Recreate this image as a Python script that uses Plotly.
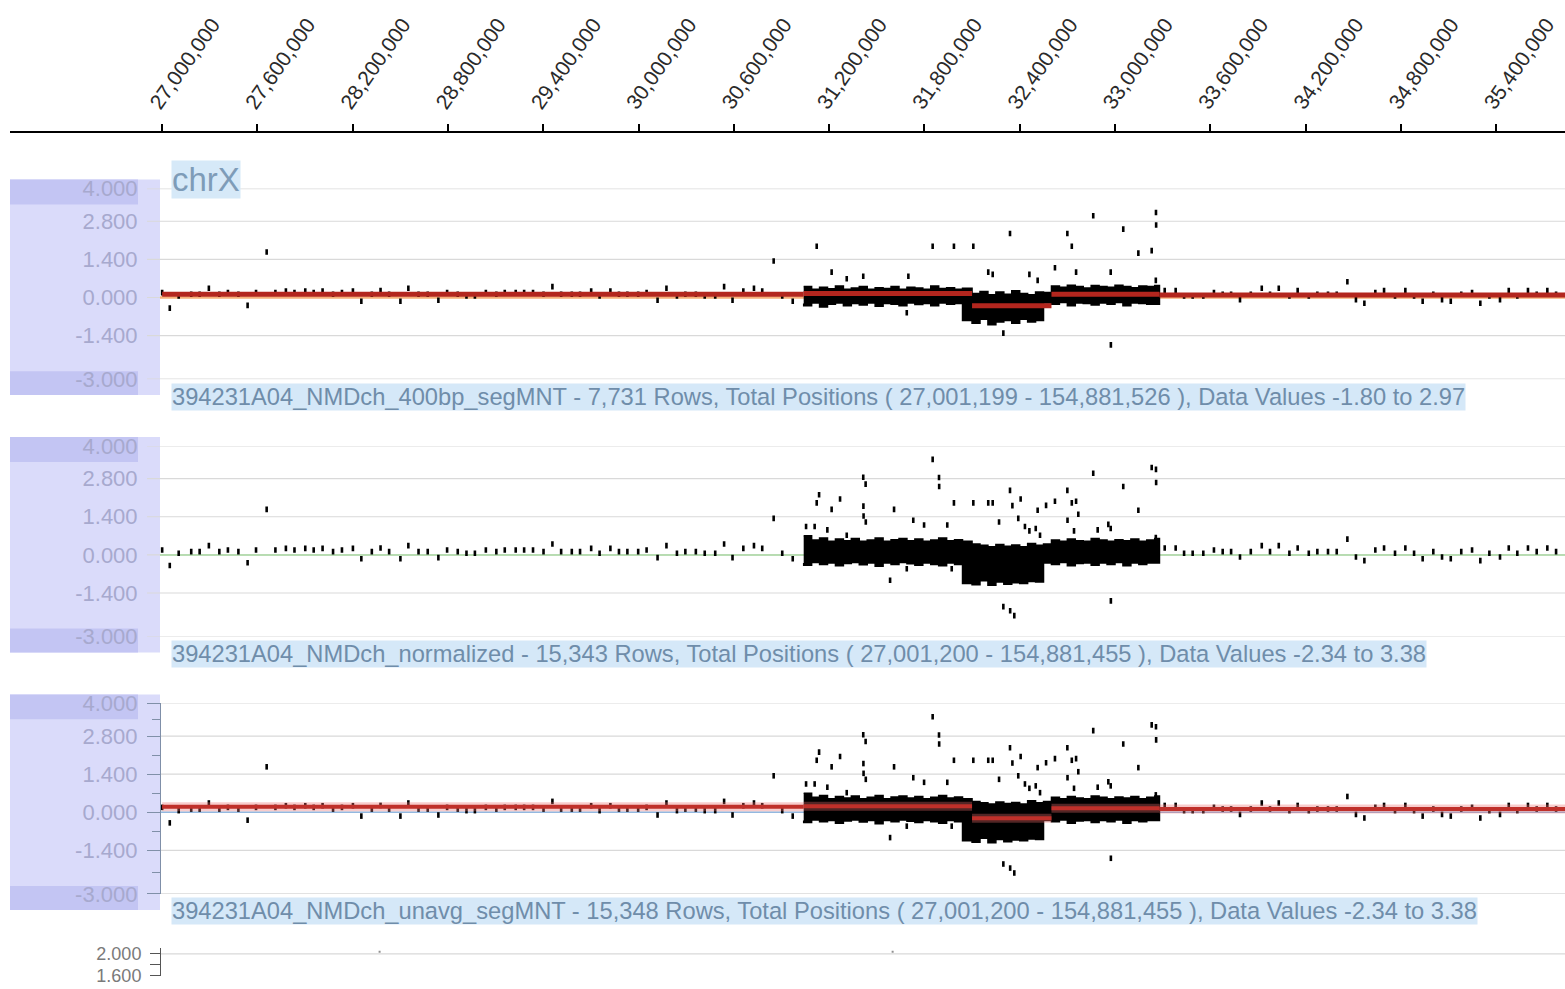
import plotly.graph_objects as go

# ---------------- data (positions in Mb, values in log-ratio units) ----------------
ruler_ticks_mb = [27.0, 27.6, 28.2, 28.8, 29.4, 30.0, 30.6, 31.2, 31.8, 32.4, 33.0, 33.6, 34.2, 34.8, 35.4]
ytick_vals = [4.0, 2.8, 1.4, 0.0, -1.4, -3.0]
ytick_minor = [3.4, 2.1, 0.7, -0.7, -2.2]

# sparse probes flanking the dense region (shared by the three tracks)
flank_x = [27.001, 27.049, 27.105, 27.184, 27.237, 27.295, 27.361, 27.415, 27.481, 27.539,
           27.592, 27.659, 27.714, 27.780, 27.834, 27.902, 27.955, 28.011, 28.077, 28.133,
           28.202, 28.255, 28.321, 28.376, 28.430, 28.501, 28.551, 28.615, 28.673, 28.740,
           28.795, 28.862, 28.917, 28.970, 29.039, 29.105, 29.158, 29.227, 29.280, 29.336,
           29.402, 29.458, 29.513, 29.580, 29.632, 29.702, 29.755, 29.823, 29.877, 29.930,
           29.998, 30.051, 30.120, 30.176, 30.242, 30.295, 30.361, 30.417, 30.483, 30.539,
           30.592, 30.660, 30.727, 30.779, 30.851, 30.905, 30.971,
           33.313, 33.382, 33.435, 33.489, 33.556, 33.623, 33.678, 33.731, 33.787, 33.855,
           33.924, 33.976, 34.031, 34.098, 34.150, 34.220, 34.274, 34.341, 34.396, 34.463,
           34.517, 34.570, 34.639, 34.694, 34.763, 34.828, 34.883, 34.937, 35.004, 35.059,
           35.114, 35.180, 35.248, 35.300, 35.357, 35.424, 35.479, 35.533, 35.600, 35.655,
           35.722, 35.777]
flank_y = [0.18, -0.39, 0.06, 0.12, 0.12, 0.34, 0.12, 0.18, 0.12, -0.29,
           0.18, 1.67, 0.18, 0.24, 0.18, 0.24, 0.18, 0.24, 0.12, 0.18,
           0.24, -0.14, 0.12, 0.25, 0.12, -0.14, 0.34, 0.12, 0.12, -0.10,
           0.18, 0.12, 0.06, 0.06, 0.18, 0.12, 0.18, 0.18, 0.18, 0.18,
           0.12, 0.40, 0.12, 0.12, 0.12, 0.24, 0.06, 0.24, 0.12, 0.12,
           0.12, 0.18, -0.10, 0.34, 0.06, 0.12, 0.12, 0.06, 0.06, 0.40,
           -0.10, 0.24, 0.34, 0.24, 1.34, 0.06, -0.14,
           0.25, 0.25, 0.06, 0.06, 0.06, 0.18, 0.12, 0.12, -0.08, 0.12,
           0.34, 0.12, 0.34, 0.06, 0.25, 0.06, 0.12, 0.12, 0.12, 0.58,
           -0.08, -0.21, 0.18, 0.25, 0.06, 0.25, 0.06, -0.14, 0.12, -0.08,
           -0.14, 0.12, 0.18, -0.21, 0.06, -0.08, 0.25, 0.06, 0.25, 0.12,
           0.25, 0.12]

# dense probe cloud envelope (sampled edges of the black band)
band_x = [31.04, 31.09, 31.14, 31.19, 31.24, 31.29, 31.34, 31.39, 31.44, 31.49, 31.54,
          31.59, 31.64, 31.69, 31.74, 31.79, 31.84, 31.89, 31.94, 31.99, 32.04,
          32.10, 32.15, 32.20, 32.25, 32.30, 32.35, 32.40, 32.45, 32.50, 32.55,
          32.60, 32.65, 32.70, 32.75, 32.80, 32.85, 32.90, 32.95, 33.00, 33.05,
          33.10, 33.15, 33.20, 33.25, 33.28]
norm_top = [0.70, 0.55, 0.62, 0.50, 0.58, 0.52, 0.60, 0.50, 0.55, 0.62, 0.50,
            0.56, 0.60, 0.52, 0.58, 0.50, 0.55, 0.62, 0.52, 0.56, 0.50,
            0.40, 0.35, 0.30, 0.38, 0.32, 0.36, 0.30, 0.42, 0.35, 0.40,
            0.55, 0.50, 0.58, 0.52, 0.50, 0.60, 0.55, 0.50, 0.56, 0.52,
            0.58, 0.50, 0.55, 0.60, 0.60]
norm_bot = [-0.30, -0.38, -0.28, -0.35, -0.30, -0.40, -0.32, -0.28, -0.36, -0.30, -0.42,
            -0.30, -0.35, -0.28, -0.33, -0.38, -0.30, -0.35, -0.40, -0.30, -0.35,
            -1.05, -1.10, -0.95, -1.12, -1.00, -1.08, -1.02, -1.05, -0.98, -1.00,
            -0.30, -0.35, -0.28, -0.40, -0.32, -0.30, -0.38, -0.30, -0.35, -0.28,
            -0.40, -0.30, -0.35, -0.30, -0.30]
seg400_top = [0.40, 0.30, 0.38, 0.32, 0.42, 0.30, 0.35, 0.40, 0.30, 0.36, 0.33,
              0.40, 0.30, 0.38, 0.35, 0.30, 0.42, 0.33, 0.36, 0.30, 0.34,
              0.15, 0.22, 0.10, 0.20, 0.12, 0.25, 0.15, 0.10, 0.20, 0.18,
              0.42, 0.38, 0.45, 0.40, 0.35, 0.44, 0.40, 0.38, 0.45, 0.40,
              0.36, 0.42, 0.40, 0.44, 0.44]
seg400_bot = [-0.22, -0.30, -0.20, -0.35, -0.25, -0.20, -0.30, -0.22, -0.28, -0.20, -0.32,
              -0.22, -0.25, -0.30, -0.20, -0.26, -0.22, -0.30, -0.20, -0.25, -0.22,
              -0.85, -0.95, -0.80, -1.00, -0.90, -0.85, -0.95, -0.80, -0.90, -0.85,
              -0.20, -0.25, -0.18, -0.30, -0.20, -0.22, -0.28, -0.20, -0.25, -0.18,
              -0.30, -0.20, -0.22, -0.25, -0.25]

# outliers inside the dense region
norm_out_x = [31.055, 31.109, 31.122, 31.137, 31.189, 31.216, 31.269, 31.311, 31.415, 31.430,
              31.416, 31.417, 31.431, 31.584, 31.609, 31.689, 31.730, 31.798, 31.852, 31.892,
              31.893, 31.944, 31.972, 31.986, 32.108, 32.202, 32.230, 32.270, 32.297, 32.339,
              32.340, 32.354, 32.366, 32.391, 32.406, 32.433, 32.461, 32.501, 32.513, 32.514,
              32.528, 32.566, 32.622, 32.700, 32.701, 32.728, 32.755, 32.742, 32.769, 32.863,
              32.891, 32.958, 32.973, 32.974, 33.052, 33.147, 33.231, 33.258, 33.259, 33.257]
norm_out_y = [1.04, 1.04, 1.91, 2.21, 0.92, 1.67, 2.05, 0.72, 2.85, 2.60,
              1.79, 1.43, 1.21, -0.93, 1.67, -0.51, 1.27, 1.10, 3.51, 2.84,
              2.51, 1.10, -0.51, 1.91, 1.91, 1.91, 1.91, 1.21, -1.90, 2.37,
              -2.05, 1.81, -2.23, 1.34, 2.05, 1.04, 0.88, 0.97, 1.64, -0.57,
              0.72, 1.82, 1.97, 2.37, 1.27, 1.91, 1.97, 0.88, 1.49, 3.00,
              0.92, 1.12, 0.97, -1.69, 2.51, 1.64, 3.21, 3.14, 2.66, 0.64]
seg400_out_x = [31.122, 31.216, 31.311, 31.415, 31.699, 31.689, 31.852, 31.986, 32.108, 32.202,
                32.230, 32.297, 32.339, 32.461, 32.513, 32.622, 32.700, 32.728, 32.755, 32.863,
                32.973, 32.974, 33.052, 33.147, 33.231, 33.258, 33.259, 33.257]
seg400_out_y = [1.88, 0.93, 0.69, 0.78, 0.78, -0.56, 1.88, 1.88, 1.88, 0.93,
                0.85, -1.31, 2.35, 0.85, 0.63, 1.09, 2.35, 1.88, 0.93, 3.00,
                0.93, -1.74, 2.51, 1.63, 1.72, 3.12, 2.66, 0.63]

# segmentation calls
seg_start = [27.001, 31.04, 32.10, 32.60, 33.28]
seg_end = [31.04, 32.10, 32.60, 33.28, 35.85]
seg400_val = [0.12, 0.15, -0.30, 0.12, 0.09]
unavg_val = [0.20, 0.22, -0.22, 0.15, 0.12]

# bottom (partially visible) track
low_x = [28.37, 31.60]
low_y = [2.04, 2.04]

titles = [
    "394231A04_NMDch_400bp_segMNT - 7,731 Rows, Total Positions ( 27,001,199 - 154,881,526 ), Data Values -1.80 to 2.97",
    "394231A04_NMDch_normalized - 15,343 Rows, Total Positions ( 27,001,200 - 154,881,455 ), Data Values -2.34 to 3.38",
    "394231A04_NMDch_unavg_segMNT - 15,348 Rows, Total Positions ( 27,001,200 - 154,881,455 ), Data Values -2.34 to 3.38",
]

# ---------------- layout helpers ----------------
W, H = 1565, 989
FONT = "Liberation Sans, Arial, sans-serif"
SY, OY = 0.977, 12.0   # vertical calibration of the captured page


def fx(px):
    return px / W


def fy(py):
    return 1 - ((py - OY) / SY) / H


BP0, PX0, BP_PER_PX = 27.0e6, 162.0, 6.0e5 / 95.3
x_range = [BP0 + (10 - PX0) * BP_PER_PX, BP0 + (W - PX0) * BP_PER_PX]


def bp(lst):
    return [v * 1e6 for v in lst]


fig = go.Figure()

tracks = [  # (yaxis id, grid-top px, grid-bottom px)
    ("y2", 189, 380),
    ("y3", 447, 638),
    ("y4", 705, 896),
]


def dots(xs, ys, yax):
    fig.add_trace(go.Scatter(
        x=bp(xs), y=ys, xaxis="x", yaxis=yax, mode="markers",
        marker=dict(symbol="line-ns", size=4, line=dict(width=2.6, color="black")),
        hoverinfo="skip", showlegend=False))


def band(top, bot, yax):
    xs = bp(band_x) + bp(band_x[::-1])
    ys = top + bot[::-1]
    fig.add_trace(go.Scatter(
        x=xs, y=ys, xaxis="x", yaxis=yax, mode="lines", fill="toself",
        fillcolor="black", line=dict(color="black", width=1.5, shape="hv"),
        hoverinfo="skip", showlegend=False))


def segments(vals, yax, color, width, halo=None):
    xs, ys = [], []
    for s, e, v in zip(seg_start, seg_end, vals):
        xs += [s * 1e6, e * 1e6, None]
        ys += [v, v, None]
    if halo:
        fig.add_trace(go.Scatter(x=xs, y=ys, xaxis="x", yaxis=yax, mode="lines",
                                 line=dict(color=halo, width=width + 5),
                                 hoverinfo="skip", showlegend=False))
    fig.add_trace(go.Scatter(x=xs, y=ys, xaxis="x", yaxis=yax, mode="lines",
                             line=dict(color=color, width=width),
                             hoverinfo="skip", showlegend=False))


# track 1: 400bp segMNT
dots(flank_x, flank_y, "y2")
band(seg400_top, seg400_bot, "y2")
dots(seg400_out_x, seg400_out_y, "y2")
segments(seg400_val, "y2", "#B3261E", 5)

# track 2: normalized
dots(flank_x, flank_y, "y3")
band(norm_top, norm_bot, "y3")
dots(norm_out_x, norm_out_y, "y3")

# track 3: unavg segMNT
dots(flank_x, flank_y, "y4")
band(norm_top, norm_bot, "y4")
dots(norm_out_x, norm_out_y, "y4")
segments(unavg_val, "y4", "#C0302A", 4, halo="rgba(235,110,110,0.35)")

# track 4
fig.add_trace(go.Scatter(x=bp(low_x), y=low_y, xaxis="x", yaxis="y5", mode="markers",
                         marker=dict(symbol="square", size=2, color="#909090"),
                         hoverinfo="skip", showlegend=False))

shapes = []
baseline_colors = ["#F6B07A", "#A9D9A0", "#93B8E0"]
for i, (yax, ptop, pbot) in enumerate(tracks):
    # label panel
    shapes.append(dict(type="rect", xref="paper", yref="paper", x0=fx(10), x1=fx(160),
                       y0=fy(pbot + 16), y1=fy(ptop - 9), fillcolor="#DADBFA",
                       line=dict(width=0), layer="below"))
    shapes.append(dict(type="rect", xref="paper", yref="paper", x0=fx(10), x1=fx(138),
                       y0=fy(ptop + 16), y1=fy(ptop - 9), fillcolor="#C3C5F3",
                       line=dict(width=0), layer="below"))
    shapes.append(dict(type="rect", xref="paper", yref="paper", x0=fx(10), x1=fx(138),
                       y0=fy(pbot + 16), y1=fy(pbot - 8), fillcolor="#C3C5F3",
                       line=dict(width=0), layer="below"))
    gx0 = fx(160) if i == 2 else fx(147)
    for v in ytick_vals:
        shapes.append(dict(type="line", xref="paper", yref=yax, x0=gx0, x1=1, y0=v, y1=v,
                           line=dict(color="#D9D9D9", width=1.2), layer="below"))
    shapes.append(dict(type="line", xref="paper", yref=yax, x0=fx(160), x1=1, y0=0, y1=0,
                       line=dict(color=baseline_colors[i], width=2.5 if i == 0 else 1.5),
                       layer="below"))
shapes.append(dict(type="line", xref="paper", yref="y5", x0=fx(160), x1=1, y0=2.0, y1=2.0,
                   line=dict(color="#D9D9D9", width=1.2), layer="below"))

annotations = [dict(x=fx(171), y=fy(180), xref="paper", yref="paper", xanchor="left",
                    yanchor="middle", text="chrX", showarrow=False,
                    font=dict(family=FONT, size=33, color="#7E9CB8"),
                    bgcolor="#D6E9F8", borderpad=0)]
for t, pyc in zip(titles, [398, 656, 913]):
    annotations.append(dict(x=fx(171), y=fy(pyc), xref="paper", yref="paper",
                            xanchor="left", yanchor="middle", text=t, showarrow=False,
                            font=dict(family=FONT, size=23.7, color="#6F8DAA"),
                            bgcolor="#D5E8F8", borderpad=0))

yfmt = ["%.3f" % v for v in ytick_vals]


def track_axis(ptop, pbot, line=False):
    d = dict(domain=[fy(pbot), fy(ptop)], range=[-3.0, 4.0], anchor="free",
             position=fx(160), tickmode="array", tickvals=ytick_vals, ticktext=yfmt,
             showgrid=False, zeroline=False, fixedrange=True,
             tickfont=dict(family=FONT, size=22, color="#A7A9CE"),
             ticks="outside", ticklen=13, ticklabelstandoff=5,
             tickcolor="rgba(0,0,0,0)")
    if line:
        d.update(showline=True, linecolor="#7F8FA8", linewidth=1.2, tickcolor="#8090A8",
                 tickwidth=1.2,
                 minor=dict(tickmode="array", tickvals=ytick_minor, ticks="outside",
                            ticklen=8, tickcolor="#8090A8", tickwidth=1.2, showgrid=False))
    return d


# bottom track: 2.000 near the top, 1.600 right at the page bottom (partly cut, as in the source)
t4_top, t4_v2, t4_v16 = 950.0, 956.0, 977.5
t4_ppu = (t4_v16 - t4_v2) / 0.4
t4_bottom_px = OY + SY * H
t4_range = [2.0 - (t4_bottom_px - t4_v2) / t4_ppu, 2.0 + (t4_v2 - t4_top) / t4_ppu]

fig.update_layout(
    width=W, height=H, autosize=False,
    margin=dict(l=0, r=0, t=0, b=0),
    paper_bgcolor="white", plot_bgcolor="rgba(0,0,0,0)",
    showlegend=False,
    xaxis=dict(domain=[fx(10), 1], range=x_range, anchor="free", position=fy(132),
               side="top", tickmode="array", tickvals=bp(ruler_ticks_mb), tickformat=",d",
               tickangle=-55, ticks="outside", ticklen=7, tickwidth=1.5, tickcolor="black",
               ticklabelshift=-10, ticklabeloverflow="allow",
               showline=True, linecolor="black", linewidth=2, showgrid=False,
               zeroline=False, fixedrange=True,
               tickfont=dict(family=FONT, size=21, color="#2A2A2A")),
    yaxis=dict(domain=[fy(133), fy(131)], range=[0, 1], anchor="x", visible=False,
               fixedrange=True),
    yaxis2=track_axis(189, 380),
    yaxis3=track_axis(447, 638),
    yaxis4=track_axis(705, 896, line=True),
    yaxis5=dict(domain=[0, fy(t4_top)], range=t4_range, anchor="free", position=fx(160),
                tickmode="array", tickvals=[2.0, 1.6], ticktext=["2.000", "1.600"],
                showgrid=False, zeroline=False, showline=True, linecolor="#555555",
                ticks="outside", ticklen=10, tickcolor="#555555", ticklabelstandoff=5,
                ticklabeloverflow="allow",
                minor=dict(tickmode="array", tickvals=[1.8], ticks="outside", ticklen=10,
                           tickcolor="#555555"),
                tickfont=dict(family=FONT, size=18, color="#7A7A7A"), fixedrange=True),
    shapes=shapes,
    annotations=annotations,
)

fig.write_html("out.html", config={"displayModeBar": False},
               post_script="document.body.style.margin='0';document.body.style.overflow='hidden';")
